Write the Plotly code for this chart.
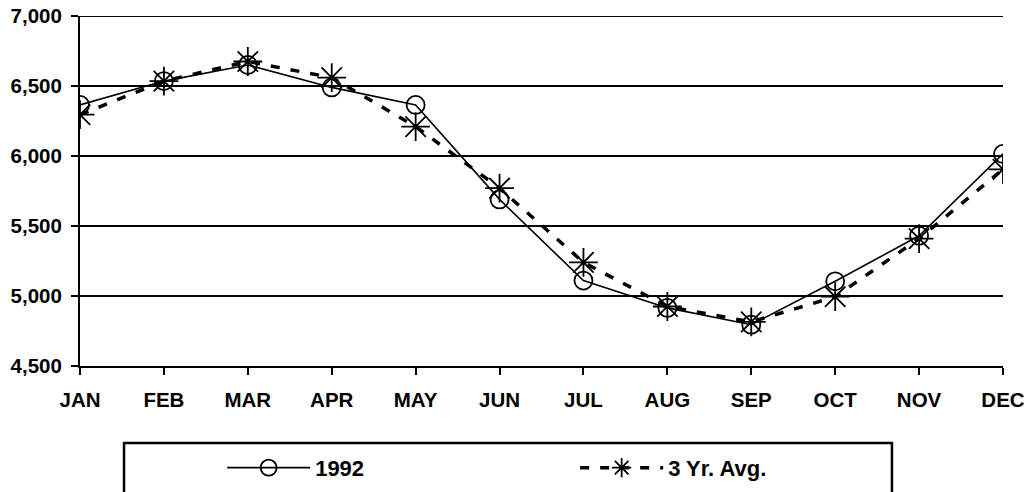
import plotly.graph_objects as go

# 月份与两组数据
months = ["JAN", "FEB", "MAR", "APR", "MAY", "JUN",
          "JUL", "AUG", "SEP", "OCT", "NOV", "DEC"]
vals_1992 = [6365, 6535, 6650, 6490, 6365, 5690,
             5110, 4915, 4795, 5105, 5430, 6015]
vals_3yr = [6295, 6535, 6675, 6560, 6210, 5770,
            5240, 4925, 4815, 4995, 5410, 5905]
y_ticks = [4500, 5000, 5500, 6000, 6500, 7000]

FONT = "Liberation Sans, Arial, sans-serif"
tick_font = dict(size=20.5, family=FONT, color="black", weight="bold")

fig = go.Figure()

fig.add_trace(go.Scatter(
    x=months, y=vals_1992, name="1992",
    mode="lines+markers",
    line=dict(color="black", width=1.6),
    marker=dict(symbol="circle-open", size=18, color="black",
                line=dict(width=1.8, color="black")),
))

fig.add_trace(go.Scatter(
    x=months, y=vals_3yr, name="3 Yr. Avg.",
    mode="lines+markers",
    line=dict(color="black", width=3.5, dash="9px,11px"),
    marker=dict(symbol="asterisk-open", size=24, color="black",
                line=dict(width=1.8, color="black")),
))

# 顶部 7,000 网格线 (plotly 会裁掉范围端点上的网格线)
fig.add_shape(type="line", xref="paper", yref="y", x0=0, x1=1, y0=7000, y1=7000,
              line=dict(color="black", width=2), layer="below")

# 图例外框 (底部被裁切)
fig.add_shape(type="rect", xref="paper", yref="paper",
              x0=0.0477, x1=0.8797, y0=-0.22, y1=-0.42,
              line=dict(color="black", width=2.5), fillcolor="rgba(0,0,0,0)")

fig.update_layout(
    width=1032, height=492,
    margin=dict(l=80, r=29, t=16, b=126, autoexpand=False),
    plot_bgcolor="white", paper_bgcolor="white",
    font=dict(family=FONT, size=19, color="black"),
    showlegend=True,
    legend=dict(orientation="h", x=0.154, y=-0.291, xanchor="left", yanchor="middle",
                font=dict(size=22, family=FONT, color="black", weight="bold"),
                itemwidth=83, entrywidth=255, bgcolor="rgba(0,0,0,0)"),
)

fig.update_xaxes(
    type="category", range=[0, 11], automargin=False,
    showline=True, linecolor="black", linewidth=2,
    ticks="outside", ticklen=7, tickwidth=2, tickcolor="black",
    showgrid=False, zeroline=False, ticklabeloverflow="allow",
    tickfont=tick_font, ticklabelstandoff=7,
)

fig.update_yaxes(
    range=[4500, 7000], tickvals=y_ticks, automargin=False,
    tickformat=",",
    showline=True, linecolor="black", linewidth=2,
    ticks="outside", ticklen=7, tickwidth=2, tickcolor="black",
    showgrid=True, gridcolor="black", gridwidth=2,
    zeroline=False, ticklabelstandoff=5, ticklabeloverflow="allow",
    tickfont=tick_font,
)

# 去掉页面 body 的默认 8px 边距, 让图贴齐窗口; 隐藏工具栏
fig.write_html("out.html", config={"displayModeBar": False},
               post_script="document.body.style.margin='0';")
